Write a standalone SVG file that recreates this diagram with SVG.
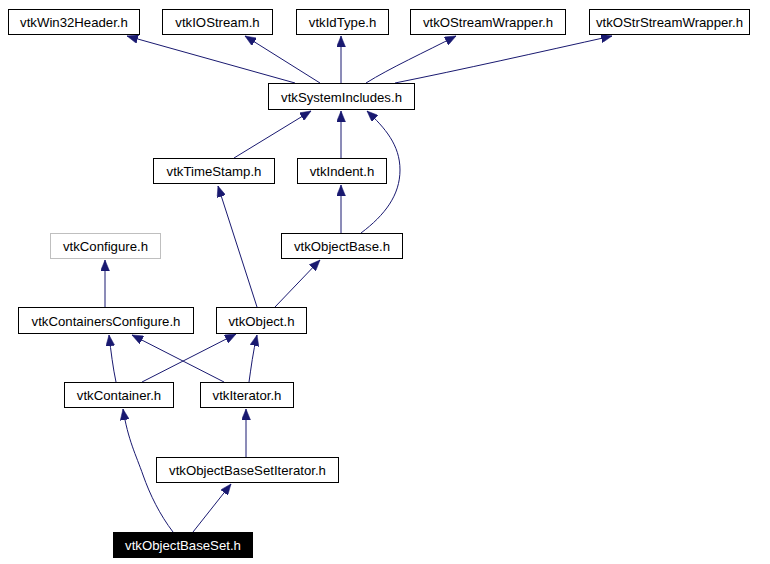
<svg xmlns="http://www.w3.org/2000/svg" width="770" height="564" viewBox="0 0 770 564">
<style>
.n rect{fill:#fff;stroke:#000;stroke-width:1}
.n text{font-family:"Liberation Sans",Arial,sans-serif;font-size:13.2px;fill:#000;text-anchor:middle}
.g rect{stroke:#bfbfbf}
.b rect{fill:#000}
.b text{fill:#fff}
.e path{fill:none;stroke:#191970;stroke-width:1;marker-end:url(#a)}
</style>
<defs>
<marker id="a" markerUnits="userSpaceOnUse" markerWidth="12" markerHeight="9" refX="11" refY="4.5" orient="auto"><path d="M0,0 L11,4.5 L0,9 z" fill="#191970" stroke="#191970" stroke-width="0.5"/></marker>
</defs>
<rect width="770" height="564" fill="#fff"/>
<g class="e">
<path d="M295,83 L127,36"/>
<path d="M320,83 L245,36"/>
<path d="M341,83 L341,36"/>
<path d="M366,83 C390,68 425,52 456,36"/>
<path d="M395,83 C460,70 540,52 612,36"/>
<path d="M234,158 L311,111"/>
<path d="M341,158 L341,111"/>
<path d="M361,233 C385,215 400,195 400,170 C400,145 385,128 367,111"/>
<path d="M341,233 L341,185"/>
<path d="M257,307 L218,186"/>
<path d="M275,307 L320,260"/>
<path d="M105,307 L105,260"/>
<path d="M116,382 C113,368 111,352 109,335"/>
<path d="M142,382 L236,334"/>
<path d="M224,382 L132,335"/>
<path d="M249,382 C251,368 253,352 257,335"/>
<path d="M246,457 L246,409"/>
<path d="M173,532 C160,515 150,495 143,475 C136,455 128,440 123,409"/>
<path d="M193,532 L231,484"/>
</g>
<g id="vtkWin32Header" class="n"><rect x="8.5" y="9.5" width="131" height="25"/><text x="74" y="26.5">vtkWin32Header.h</text></g>
<g id="vtkIOStream" class="n"><rect x="162.5" y="9.5" width="110" height="25"/><text x="217.5" y="26.5">vtkIOStream.h</text></g>
<g id="vtkIdType" class="n"><rect x="296.5" y="9.5" width="92" height="25"/><text x="342.5" y="26.5">vtkIdType.h</text></g>
<g id="vtkOStreamWrapper" class="n"><rect x="410.5" y="9.5" width="155" height="25"/><text x="488" y="26.5">vtkOStreamWrapper.h</text></g>
<g id="vtkOStrStreamWrapper" class="n"><rect x="589.5" y="9.5" width="160" height="25"/><text x="669.5" y="26.5">vtkOStrStreamWrapper.h</text></g>
<g id="vtkSystemIncludes" class="n"><rect x="268.5" y="83.5" width="146" height="26"/><text x="341.5" y="101.5">vtkSystemIncludes.h</text></g>
<g id="vtkTimeStamp" class="n"><rect x="153.5" y="158.5" width="121" height="25"/><text x="214" y="175.5">vtkTimeStamp.h</text></g>
<g id="vtkIndent" class="n"><rect x="297.5" y="158.5" width="89" height="25"/><text x="342" y="175.5">vtkIndent.h</text></g>
<g id="vtkConfigure" class="n g"><rect x="50.5" y="233.5" width="110" height="25"/><text x="105.5" y="250.5">vtkConfigure.h</text></g>
<g id="vtkObjectBase" class="n"><rect x="281.5" y="233.5" width="121" height="25"/><text x="342" y="250.5">vtkObjectBase.h</text></g>
<g id="vtkContainersConfigure" class="n"><rect x="18.5" y="307.5" width="175" height="26"/><text x="106" y="325.5">vtkContainersConfigure.h</text></g>
<g id="vtkObject" class="n"><rect x="216.5" y="307.5" width="90" height="26"/><text x="261.5" y="325.5">vtkObject.h</text></g>
<g id="vtkContainer" class="n"><rect x="64.5" y="382.5" width="109" height="25"/><text x="119" y="399.5">vtkContainer.h</text></g>
<g id="vtkIterator" class="n"><rect x="200.5" y="382.5" width="93" height="25"/><text x="247" y="399.5">vtkIterator.h</text></g>
<g id="vtkObjectBaseSetIterator" class="n"><rect x="156.5" y="457.5" width="182" height="25"/><text x="247.5" y="474.5">vtkObjectBaseSetIterator.h</text></g>
<g id="vtkObjectBaseSet" class="n b"><rect x="113.5" y="532.5" width="139" height="25"/><text x="183" y="549.5">vtkObjectBaseSet.h</text></g>
</svg>
